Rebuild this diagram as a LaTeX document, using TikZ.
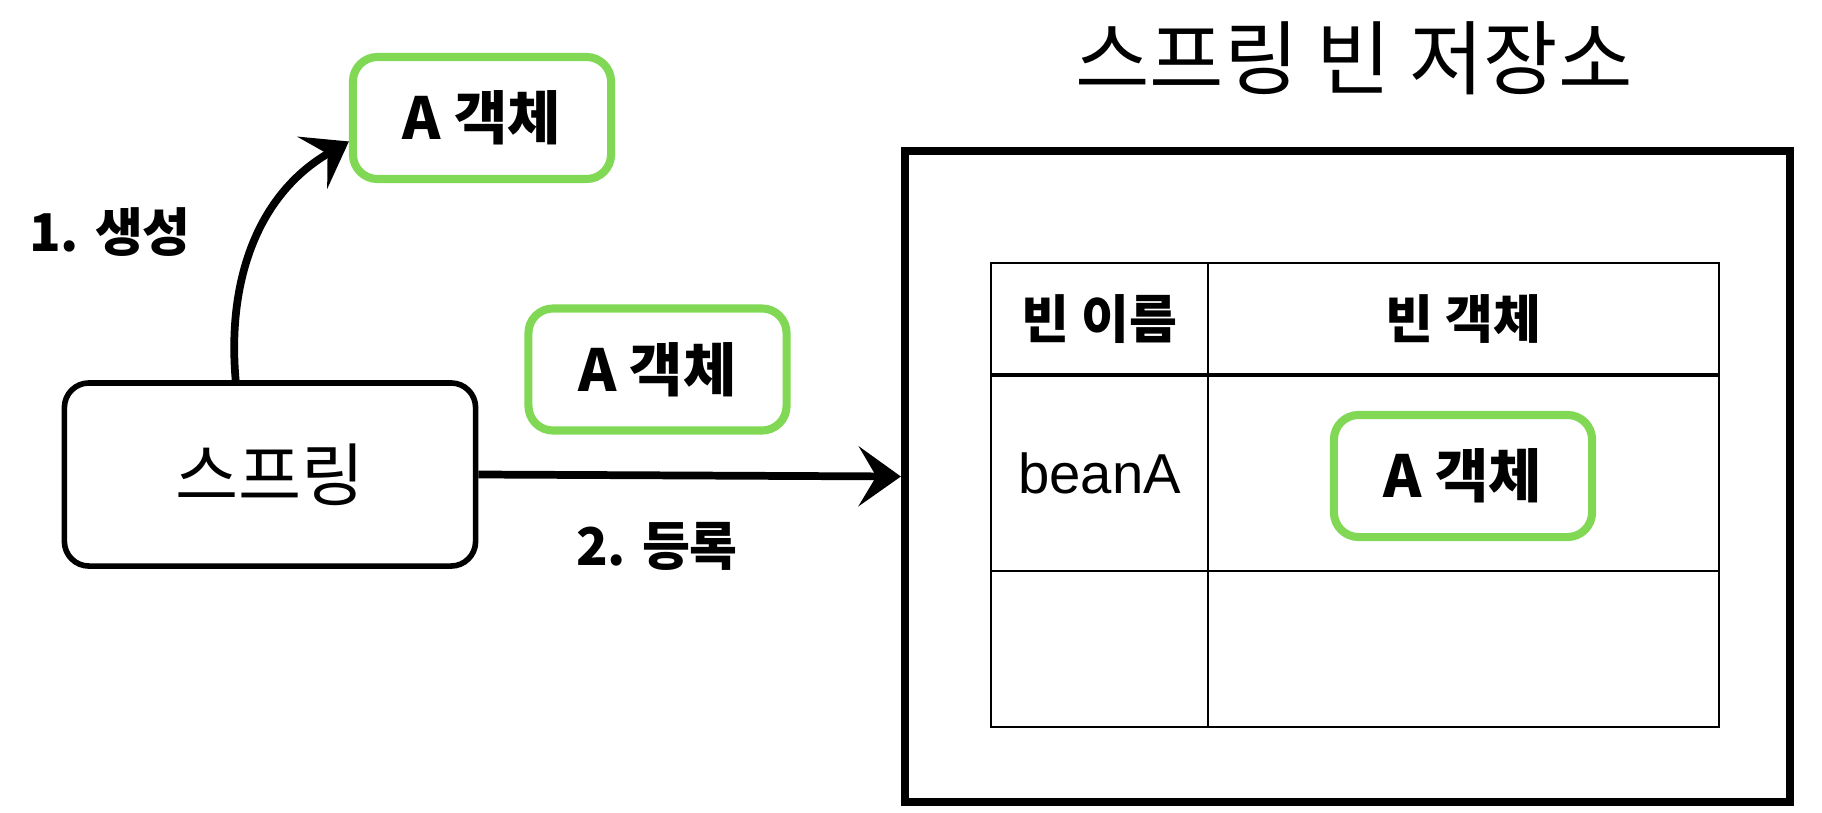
\documentclass[tikz,border=0pt]{standalone}
\usepackage{fontspec}
\setmainfont{Noto Sans CJK KR}
\newfontfamily\latinfont{Liberation Sans}
\usetikzlibrary{arrows.meta}

\definecolor{beangreen}{HTML}{80D855}

\tikzset{
  objbox/.style={draw=beangreen, line width=2.3pt, rounded corners=7pt,
    minimum width=2.58cm, minimum height=1.22cm,
    font=\bfseries\fontsize{16.5}{19}\selectfont},
  flow/.style={line width=2.2pt, -{Stealth[length=12pt,width=17pt,inset=5pt]}},
  lbl/.style={font=\bfseries\fontsize{14.8}{17}\selectfont},
}

\begin{document}
\begin{tikzpicture}[x=0.01cm, y=-0.01cm]

\def\tL{991}  
\def\tR{1719} 
\def\tC{1208} 
\def\tT{263}  
\def\tH{375}  
\def\tM{571}  
\def\tB{727}  

\useasboundingbox (0,0) rectangle (1822,812);

% spring container and objects
\node[draw, line width=1.6pt, rounded corners=7pt, minimum width=4.11cm,
      minimum height=1.83cm, font=\fontsize{19.5}{23}\selectfont] (sp) at (270,474.5) {스프링};

\node[objbox] (a1) at (482,118)   {A 객체};
\node[objbox] (a2) at (657.5,369.5) {A 객체};

\node[lbl] (mk) at (110,232) {1. 생성};
\node[lbl] (rg) at (657,546) {2. 등록};

% bean store
\node[font=\fontsize{23}{27}\selectfont] (title) at (1354,58) {스프링 빈 저장소};
\node[draw, line width=2.2pt, minimum width=8.85cm, minimum height=6.51cm] (store) at (1347.5,476.5) {};

\draw[line width=0.6pt] (\tL,\tT) rectangle (\tR,\tB);
\draw[line width=0.6pt] (\tC,\tT) -- (\tC,\tB);
\draw[line width=1.2pt] (\tL,\tH) -- (\tR,\tH);
\draw[line width=0.6pt] (\tL,\tM) -- (\tR,\tM);

\node[lbl] (hname) at ({(\tL+\tC)/2},{(\tT+\tH)/2}) {빈 이름};
\node[lbl] (hobj)  at ({(\tC+\tR)/2},{(\tT+\tH)/2}) {빈 객체};
\node[font=\latinfont\fontsize{16}{19}\selectfont] (bn) at ({(\tL+\tC)/2},{(\tH+\tM)/2}) {beanA};
\node[objbox] (a3) at (1463,476) {A 객체};

% arrows
\draw[flow] (sp.110) to[out=95, in=210] (a1.190);
\draw[flow] (sp.east) -- (store.west);

\end{tikzpicture}
\end{document}
